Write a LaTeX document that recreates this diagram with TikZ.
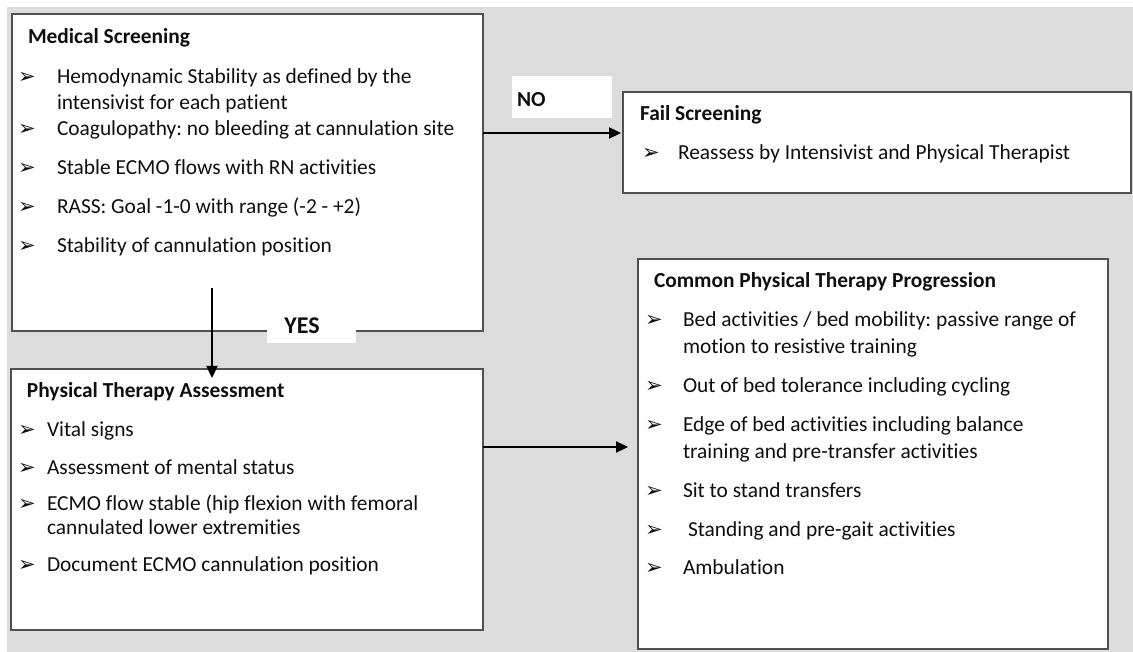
\documentclass[tikz,border=0pt]{standalone}
\usepackage{fontspec}
\setmainfont{Carlito}[Ligatures=NoCommon]
\newfontfamily\bulfont{DejaVu Sans}
\usetikzlibrary{arrows.meta,calc}
\frenchspacing
\definecolor{bggray}{RGB}{220,220,220}
\definecolor{edgegray}{RGB}{80,80,80}
\definecolor{ink}{RGB}{15,15,15}
\tikzset{
  box/.style={draw=edgegray, line width=1.8pt, fill=white, inner sep=0pt, outer sep=0pt, anchor=north west},
  lbl/.style={fill=white, inner sep=0pt, outer sep=0pt, anchor=north west},
  txt/.style={inner sep=0pt, outer sep=0pt, anchor=base west, text=ink, font=\fontsize{21.4}{26}\selectfont},
  ttl/.style={txt, font=\fontsize{21.4}{26}\selectfont\bfseries},
  bigttl/.style={txt, font=\fontsize{24}{28}\selectfont\bfseries},
  bul/.style={inner sep=0pt, outer sep=0pt, anchor=base west, text=ink, font=\bulfont\fontsize{21}{21}\selectfont},
  arr/.style={line width=2.3pt, draw=black, -{Triangle[length=12pt,width=11pt]}}
}
\begin{document}
\begin{tikzpicture}[x=1pt,y=-1pt]
\useasboundingbox (0,0) rectangle (1133,652);
\fill[white] (0,0) rectangle (1133,652);
\fill[bggray] (7,7) rectangle (1133,652);

% Medical Screening
\node[box, minimum width=471pt, minimum height=317pt] (ms) at (12,14) {};
\node[ttl] (ms0) at (28,44) {Medical Screening};
\node[bul] (msb1) at (18,84) {➢};
\node[txt] (ms1) at (57,84) {Hemodynamic Stability as defined by the};
\node[txt] (ms1b) at (57,110) {intensivist for each patient};
\node[bul] (msb2) at (18,136) {➢};
\node[txt] (ms2) at (57,136) {Coagulopathy: no bleeding at cannulation site};
\node[bul] (msb3) at (18,175) {➢};
\node[txt] (ms3) at (57,175) {Stable ECMO flows with RN activities};
\node[bul] (msb4) at (18,214) {➢};
\node[txt] (ms4) at (57,214) {RASS: Goal -1-0 with range (-2 - +2)};
\node[bul] (msb5) at (18,253) {➢};
\node[txt] (ms5) at (57,253) {Stability of cannulation position};

% NO label
\node[lbl, minimum width=100pt, minimum height=42pt] (nobox) at (512,76) {};
\node[ttl] (no) at (517,107) {NO};

% Fail Screening
\node[box, minimum width=508pt, minimum height=101pt] (fail) at (623,92) {};
\node[ttl] (fail0) at (640,121) {Fail Screening};
\node[bul] (failb1) at (642,160) {➢};
\node[txt] (fail1) at (678,160) {Reassess by Intensivist and Physical Therapist};

% Physical Therapy Assessment
\node[box, minimum width=472pt, minimum height=261pt] (pt) at (11,369) {};
\node[ttl] (pt0) at (27,398) {Physical Therapy Assessment};
\node[bul] (ptb1) at (18,436) {➢};
\node[txt] (pt1) at (47,436) {Vital signs};
\node[bul] (ptb2) at (18,474) {➢};
\node[txt] (pt2) at (47,474) {Assessment of mental status};
\node[bul] (ptb3) at (18,510) {➢};
\node[txt] (pt3) at (47,510) {ECMO flow stable (hip flexion with femoral};
\node[txt] (pt3b) at (47,534) {cannulated lower extremities};
\node[bul] (ptb4) at (18,571) {➢};
\node[txt] (pt4) at (47,571) {Document ECMO cannulation position};

% Common Physical Therapy Progression
\node[box, minimum width=470pt, minimum height=390pt] (cpt) at (638,259) {};
\node[ttl] (cpt0) at (654,288) {Common Physical Therapy Progression};
\node[bul] (cptb1) at (645,327) {➢};
\node[txt] (cpt1) at (683,327) {Bed activities / bed mobility: passive range of};
\node[txt] (cpt1b) at (683,354) {motion to resistive training};
\node[bul] (cptb2) at (645,392) {➢};
\node[txt] (cpt2) at (683,392) {Out of bed tolerance including cycling};
\node[bul] (cptb3) at (645,431) {➢};
\node[txt] (cpt3) at (683,431) {Edge of bed activities including balance};
\node[txt] (cpt3b) at (683,458) {training and pre-transfer activities};
\node[bul] (cptb4) at (645,497) {➢};
\node[txt] (cpt4) at (683,497) {Sit to stand transfers};
\node[bul] (cptb5) at (645,536) {➢};
\node[txt] (cpt5) at (688,536) {Standing and pre-gait activities};
\node[bul] (cptb6) at (645,574) {➢};
\node[txt] (cpt6) at (683,574) {Ambulation};

% YES label (covers part of the box edge)
\node[lbl, minimum width=89pt, minimum height=33pt] (yesbox) at (267,310) {};
\node[bigttl, anchor=base] (yes) at (302,334) {YES};

% connectors
\coordinate (nopt) at ([yshift=9.5pt]fail.west);
\draw[arr, shorten >=2pt] (ms.east |- nopt) -- (nopt);
\coordinate (ys) at ([xshift=-35.5pt,yshift=43pt]ms.south);
\draw[arr, shorten >=-9pt] (ys) -- (ys |- pt.north);
\coordinate (cpin) at ([yshift=7pt]cpt.west);
\draw[arr, shorten >=10pt] (pt.east |- cpin) -- (cpin);
\end{tikzpicture}
\end{document}
